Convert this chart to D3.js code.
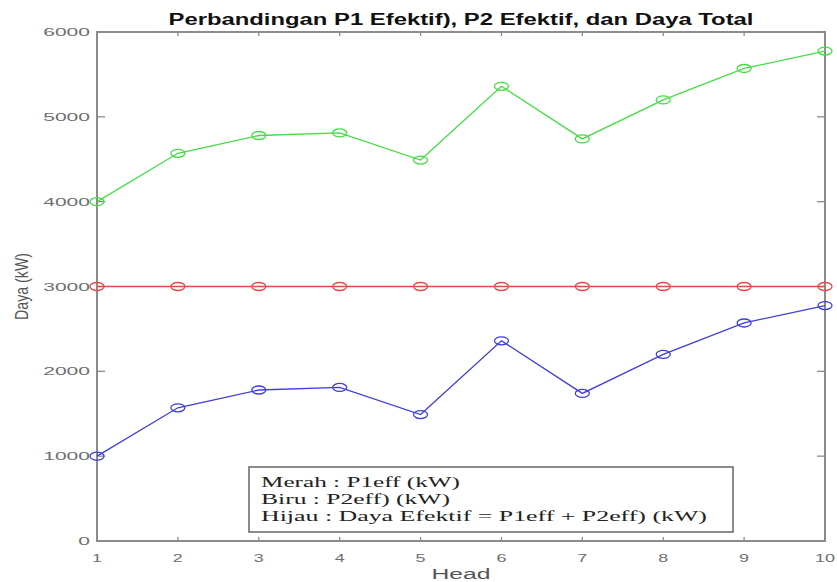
<!DOCTYPE html>
<html>
<head>
<meta charset="utf-8">
<script src="https://cdn.jsdelivr.net/npm/d3@7"></script>
<style>
  html, body { margin: 0; padding: 0; background: #fff; }
  svg { display: block; }
</style>
</head>
<body>
<div id="chart"></div>
<script>
const heads = [1, 2, 3, 4, 5, 6, 7, 8, 9, 10];
const p1eff = [3000, 3000, 3000, 3000, 3000, 3000, 3000, 3000, 3000, 3000];
const p2eff = [1000, 1570, 1780, 1810, 1490, 2360, 1740, 2200, 2570, 2775];
const dayaTotal = [4000, 4570, 4780, 4810, 4490, 5360, 4740, 5200, 5570, 5775];
const yTicks = [0, 1000, 2000, 3000, 4000, 5000, 6000];

const title = 'Perbandingan P1 Efektif), P2 Efektif, dan Daya Total';
const noteLines = [
  'Merah : P1eff (kW)',
  'Biru : P2eff) (kW)',
  'Hijau : Daya Efektif = P1eff + P2eff) (kW)',
];

const width = 837;
const height = 582;
const margin = { top: 32, right: 12, bottom: 41, left: 97 };
const innerW = width - margin.left - margin.right;
const innerH = height - margin.top - margin.bottom;

const axisColor = '#8c8c8c';
const labelColor = '#6e6e6e';

const svg = d3.select('#chart')
  .append('svg')
  .attr('width', width)
  .attr('height', height);

const x = d3.scaleLinear().domain([1, 10]).range([0, innerW]);
const y = d3.scaleLinear().domain([0, 6000]).range([innerH, 0]);

const g = svg.append('g').attr('transform', `translate(${margin.left},${margin.top})`);

// box
g.append('rect')
  .attr('width', innerW)
  .attr('height', innerH)
  .attr('fill', 'none')
  .attr('stroke', axisColor)
  .attr('stroke-width', 2);

// ticks pointing inward (MATLAB style)
const tx = g.append('g').attr('stroke', axisColor).attr('stroke-width', 1.3);
heads.forEach((h) => {
  tx.append('line').attr('x1', x(h)).attr('x2', x(h)).attr('y1', innerH).attr('y2', innerH - 4);
  tx.append('line').attr('x1', x(h)).attr('x2', x(h)).attr('y1', 0).attr('y2', 4);
});
yTicks.forEach((v) => {
  tx.append('line').attr('x1', 0).attr('x2', 8).attr('y1', y(v)).attr('y2', y(v));
  tx.append('line').attr('x1', innerW).attr('x2', innerW - 8).attr('y1', y(v)).attr('y2', y(v));
});

// tick labels
g.append('g')
  .selectAll('text')
  .data(yTicks)
  .join('text')
  .attr('x', -7)
  .attr('y', (v) => y(v) + 4)
  .attr('text-anchor', 'end')
  .attr('font-family', 'Liberation Sans, Arial, sans-serif')
  .attr('font-size', 11.5)
  .attr('fill', labelColor)
  .attr('textLength', (v) => String(v).length * 11.7)
  .attr('lengthAdjust', 'spacingAndGlyphs')
  .text((v) => v);

g.append('g')
  .selectAll('text')
  .data(heads)
  .join('text')
  .attr('x', (h) => x(h))
  .attr('y', innerH + 21)
  .attr('text-anchor', 'middle')
  .attr('font-family', 'Liberation Sans, Arial, sans-serif')
  .attr('font-size', 11.5)
  .attr('fill', labelColor)
  .attr('textLength', (h) => String(h).length * 10)
  .attr('lengthAdjust', 'spacingAndGlyphs')
  .text((h) => h);

// axis titles
svg.append('text')
  .attr('x', margin.left + innerW / 2)
  .attr('y', 579)
  .attr('text-anchor', 'middle')
  .attr('font-family', 'Liberation Sans, Arial, sans-serif')
  .attr('font-size', 14)
  .attr('fill', '#555')
  .attr('textLength', 59)
  .attr('lengthAdjust', 'spacingAndGlyphs')
  .text('Head');

svg.append('text')
  .attr('transform', `translate(28,${margin.top + y(3000)}) scale(1.6,1) rotate(-90)`)
  .attr('text-anchor', 'middle')
  .attr('font-family', 'Liberation Sans, Arial, sans-serif')
  .attr('font-size', 12)
  .attr('fill', '#555')
  .attr('textLength', 67)
  .attr('lengthAdjust', 'spacingAndGlyphs')
  .text('Daya (kW)');

svg.append('text')
  .attr('x', margin.left + innerW / 2)
  .attr('y', 25)
  .attr('text-anchor', 'middle')
  .attr('font-family', 'Liberation Sans, Arial, sans-serif')
  .attr('font-weight', 'bold')
  .attr('font-size', 16)
  .attr('fill', '#111')
  .attr('textLength', 585)
  .attr('lengthAdjust', 'spacingAndGlyphs')
  .text(title);

// series
const series = [
  { values: p1eff, color: '#e34a4a' },
  { values: p2eff, color: '#3f3fd6' },
  { values: dayaTotal, color: '#45dc45' },
];

const line = d3.line().x((d) => x(d[0])).y((d) => y(d[1]));

series.forEach((s) => {
  const pts = heads.map((h, i) => [h, s.values[i]]);
  g.append('path')
    .datum(pts)
    .attr('d', line)
    .attr('fill', 'none')
    .attr('stroke', s.color)
    .attr('stroke-width', 1.3);
  g.selectAll(null)
    .data(pts)
    .join('ellipse')
    .attr('cx', (d) => x(d[0]))
    .attr('cy', (d) => y(d[1]))
    .attr('rx', 7)
    .attr('ry', 4)
    .attr('fill', 'none')
    .attr('stroke', s.color)
    .attr('stroke-width', 1.3);
});

// text annotation box
const note = svg.append('g');
note.append('rect')
  .attr('x', 249)
  .attr('y', 467)
  .attr('width', 484)
  .attr('height', 65)
  .attr('fill', '#fff')
  .attr('stroke', '#666')
  .attr('stroke-width', 1.5);

const noteLengths = [199, 189, 446];
note.selectAll('text')
  .data(noteLines)
  .join('text')
  .attr('x', 261)
  .attr('y', (d, i) => 487 + i * 17)
  .attr('font-family', 'Liberation Serif, Times New Roman, serif')
  .attr('font-size', 14)
  .attr('fill', '#222')
  .attr('textLength', (d, i) => noteLengths[i])
  .attr('lengthAdjust', 'spacingAndGlyphs')
  .text((d) => d);
</script>
</body>
</html>
